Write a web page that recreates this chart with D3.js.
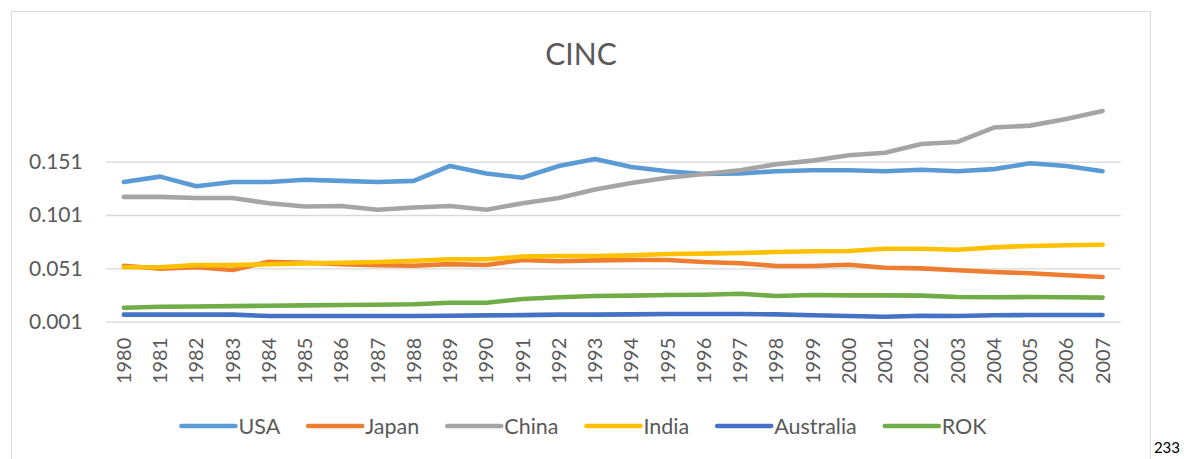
<!DOCTYPE html>
<html>
<head>
<meta charset="utf-8">
<script src="https://cdn.jsdelivr.net/npm/d3@7"></script>
<style>
  body { margin: 0; background: #fff; }
  svg { display: block; font-family: Lato, "Liberation Sans", Arial, sans-serif; }
</style>
</head>
<body>
<div id="chart"></div>
<script>
const width = 1184
const height = 459
const font = "Lato, Liberation Sans, Arial, sans-serif"

// data
const years = ["1980","1981","1982","1983","1984","1985","1986","1987","1988","1989",
  "1990","1991","1992","1993","1994","1995","1996","1997","1998","1999",
  "2000","2001","2002","2003","2004","2005","2006","2007"]
const seriesNames = ["USA", "Japan", "China", "India", "Australia", "ROK"]
const usa = [0.132, 0.137, 0.128, 0.132, 0.132, 0.134, 0.133, 0.132, 0.133, 0.147, 0.140, 0.136, 0.147, 0.1535, 0.146, 0.142, 0.1395, 0.140, 0.142, 0.143, 0.143, 0.142, 0.1435, 0.142, 0.144, 0.1495, 0.147, 0.142]
const japan = [0.0535, 0.0507, 0.052, 0.0495, 0.0572, 0.0563, 0.055, 0.054, 0.0535, 0.055, 0.0542, 0.0588, 0.0576, 0.0585, 0.0588, 0.0588, 0.057, 0.0558, 0.0532, 0.0532, 0.0544, 0.0516, 0.051, 0.0492, 0.0476, 0.0464, 0.0445, 0.0429]
const china = [0.118, 0.118, 0.117, 0.117, 0.112, 0.109, 0.1095, 0.106, 0.108, 0.1095, 0.106, 0.112, 0.117, 0.125, 0.131, 0.136, 0.1395, 0.143, 0.1486, 0.152, 0.157, 0.1594, 0.1676, 0.1695, 0.183, 0.1848, 0.191, 0.1985]
const india = [0.052, 0.052, 0.054, 0.054, 0.0548, 0.0557, 0.0563, 0.057, 0.0582, 0.0595, 0.0595, 0.062, 0.0626, 0.0626, 0.0632, 0.0645, 0.0648, 0.0654, 0.0663, 0.067, 0.0673, 0.0694, 0.0694, 0.0685, 0.0707, 0.072, 0.0726, 0.0732]
const australia = [0.0076, 0.0076, 0.0076, 0.0076, 0.0063, 0.0063, 0.0063, 0.0063, 0.0063, 0.0066, 0.0069, 0.0072, 0.0076, 0.0076, 0.0079, 0.0082, 0.0082, 0.0082, 0.0079, 0.007, 0.0063, 0.0057, 0.0066, 0.0063, 0.007, 0.0073, 0.0073, 0.0073]
const rok = [0.0141, 0.015, 0.0153, 0.0156, 0.016, 0.0163, 0.0166, 0.0169, 0.0173, 0.0188, 0.0188, 0.0223, 0.0239, 0.0251, 0.0254, 0.026, 0.0263, 0.0272, 0.0251, 0.026, 0.0257, 0.0257, 0.0254, 0.0241, 0.0239, 0.0241, 0.0239, 0.0236]
const yTicks = [0.001, 0.051, 0.101, 0.151]

const colors = ["#5B9BD5", "#ED7D31", "#A5A5A5", "#FFC000", "#4472C4", "#70AD47"]
const series = [usa, japan, china, india, australia, rok].map((values, i) => ({name: seriesNames[i], values: values, color: colors[i]}))

const svg = d3.select("div#chart").append("svg").attr("width", width).attr("height", height)

// chart frame
svg.append("rect").attr("x", 11.5).attr("y", 11.5).attr("width", 1139).attr("height", 470)
  .attr("fill", "#fff").attr("stroke", "#d9d9d9").attr("stroke-width", 1)

svg.append("text").text("CINC").attr("x", 581).attr("y", 65)
  .attr("text-anchor", "middle").attr("font-size", 30).attr("fill", "#595959")

const x = d3.scaleBand().domain(years).range([105.7, 1120.7]).padding(0)
const y = d3.scaleLinear().domain([0.001, 0.2]).range([321.7, 109.4])
const cx = d => x(d) + x.bandwidth() / 2

// gridlines + y labels
const yAxis = d3.axisLeft(y).tickValues(yTicks).tickSize(-(1120.7 - 105.7)).tickPadding(23)
  .tickFormat(d3.format(".3f"))
const yAxisGroup = svg.append("g").attr("transform", "translate(105.7,0)").call(yAxis)
yAxisGroup.select(".domain").remove()
yAxisGroup.selectAll(".tick line").attr("stroke", "#d9d9d9").attr("stroke-width", 1.3)
yAxisGroup.selectAll(".tick text").attr("font-size", 21).attr("fill", "#595959")
  .attr("font-family", font)

// x labels, rotated
const xAxis = d3.axisBottom(x).tickSize(0).tickPadding(0)
const xAxisGroup = svg.append("g").attr("transform", "translate(0,321.7)").call(xAxis)
xAxisGroup.select(".domain").remove()
xAxisGroup.selectAll(".tick text")
  .attr("font-size", 20).attr("fill", "#595959").attr("font-family", font)
  .attr("text-anchor", "end").attr("dy", null).attr("y", 0).attr("x", 0)
  .attr("transform", "translate(7,16) rotate(-90)")

const line = d3.line().x((d, i) => cx(years[i])).y(d => y(d))
svg.append("g").selectAll("path").data(series).enter().append("path")
  .attr("d", d => line(d.values))
  .attr("fill", "none").attr("stroke", d => d.color).attr("stroke-width", 4.6)
  .attr("stroke-linecap", "round").attr("stroke-linejoin", "round")

// legend
const legend = svg.append("g")
let lx = 0
series.forEach(s => {
  const g = legend.append("g").attr("transform", `translate(${lx},0)`)
  g.append("line").attr("x1", 2).attr("x2", 56).attr("y1", 0).attr("y2", 0)
    .attr("stroke", s.color).attr("stroke-width", 4.6).attr("stroke-linecap", "round")
  const t = g.append("text").text(s.name).attr("x", 59).attr("y", 7.5)
    .attr("font-size", 21.5).attr("fill", "#595959")
  lx += 59 + t.node().getComputedTextLength() + 26
})
const legendWidth = lx - 26
legend.attr("transform", `translate(${583 - legendWidth / 2},426)`)

svg.append("text").text("233").attr("x", 1180).attr("y", 453)
  .attr("text-anchor", "end").attr("font-size", 15).attr("fill", "#000")
</script>
</body>
</html>
